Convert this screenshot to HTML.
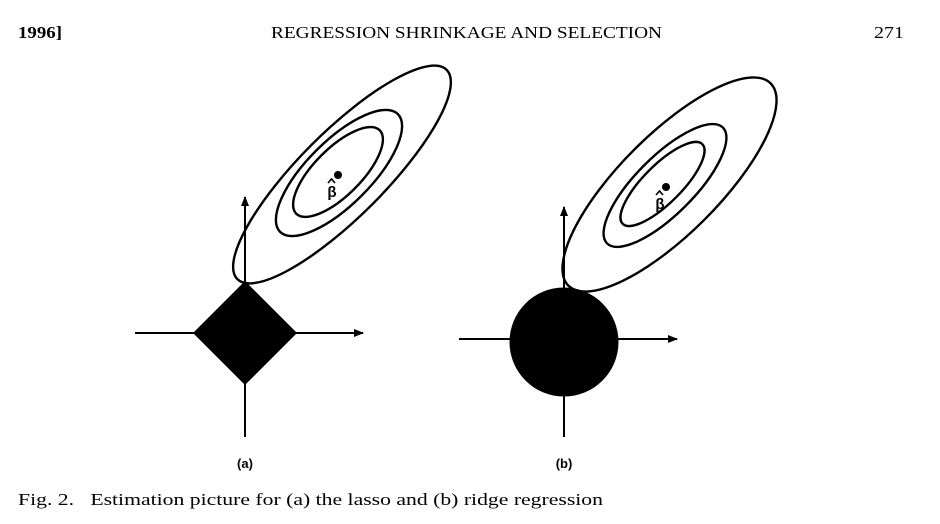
<!DOCTYPE html>
<html><head><meta charset="utf-8"><style>
html,body{margin:0;padding:0;background:#fff;}
svg{display:block;}
text{font-family:"Liberation Serif",serif;fill:#000;}
.lab{font-family:"Liberation Sans",sans-serif;font-weight:bold;font-size:13px;}
</style></head><body>
<svg id="fig" width="940" height="524" viewBox="0 0 940 524">
<defs><marker id="ah" markerWidth="10" markerHeight="8" refX="9" refY="4" orient="auto" markerUnits="userSpaceOnUse"><path d="M0,0 L10,4 L0,8 Z" fill="#000"/></marker></defs>
<text x="18" y="38" font-size="17" font-weight="bold" textLength="44" lengthAdjust="spacingAndGlyphs">1996]</text>
<text x="271" y="38" font-size="17" textLength="391" lengthAdjust="spacingAndGlyphs">REGRESSION SHRINKAGE AND SELECTION</text>
<text x="874" y="38" font-size="17" textLength="30" lengthAdjust="spacingAndGlyphs">271</text>
<g id="pa"></g>
<g id="pb"></g>
<text x="18" y="505" font-size="17" textLength="585" lengthAdjust="spacingAndGlyphs">Fig. 2.&#160;&#160;&#160;Estimation picture for (a) the lasso and (b) ridge regression</text>
</svg>
<script>
// panel geometry data
const panels = ["a", "b"];
const origins = [[245, 333], [564, 339]];
const axisLeft = [110, 105];
const axisRight = [118, 113];
const axisUp = [136, 132];
const axisDown = [104, 98];
const constraintShape = ["diamond", "circle"];
const constraintSize = [52, 54.5];
const constraintCenterY = [333, 342];
const betaHat = [[338, 175], [666, 187]];
// contour ellipses: [cx, cy, semi-major, semi-minor] at 45deg
const contoursA = [[342, 174.5, 148, 42.5], [339, 173, 83.3, 32], [338, 172, 59, 23.5]];
const contoursB = [[669.5, 184.5, 143, 49.6], [665, 185.5, 81.9, 29], [662.5, 184, 56.3, 19]];
const contours = [contoursA, contoursB];
const NS = "http://www.w3.org/2000/svg";
function mk(tag, attrs, parent){const e=document.createElementNS(NS,tag);for(const k in attrs)e.setAttribute(k,attrs[k]);parent.appendChild(e);return e;}
panels.forEach((p,i)=>{
  const g=document.getElementById("p"+p);
  const [ox,oy]=origins[i];
  const hx=mk("line",{x1:ox-axisLeft[i],y1:oy,x2:ox+axisRight[i],y2:oy,stroke:"#000","stroke-width":2,"marker-end":"url(#ah)"},g);
  
  
  const vy=mk("line",{x1:ox,y1:oy+axisDown[i],x2:ox,y2:oy-axisUp[i],stroke:"#000","stroke-width":2,"marker-end":"url(#ah)"},g);
  
  
  const s=constraintSize[i], cy=constraintCenterY[i];
  let c;
  if(constraintShape[i]==="diamond"){
    c=mk("polygon",{points:`${ox},${cy-s} ${ox+s},${cy} ${ox},${cy+s} ${ox-s},${cy}`,fill:"#000"},g);
    
  } else {
    c=mk("circle",{cx:ox,cy:cy,r:s,fill:"#000"},g);
    
  }
  
  contours[i].forEach((e,j)=>{
    const el=mk("ellipse",{cx:e[0],cy:e[1],rx:e[2],ry:e[3],transform:`rotate(-45 ${e[0]} ${e[1]})`,fill:"none",stroke:"#000","stroke-width":2.4},g);
    
    
  });
  const [bx,by]=betaHat[i];
  const d=mk("circle",{cx:bx,cy:by,r:4,fill:"#000"},g);
  
  
  const t=mk("text",{x:bx-6,y:by+22,"font-size":15,"font-weight":"bold","text-anchor":"middle",style:'font-family:"Liberation Sans",sans-serif'},g);
  t.textContent="β";
  
  
  const h=mk("path",{d:`M${bx-10},${by+8} L${bx-6.5},${by+4} L${bx-3},${by+8}`,fill:"none",stroke:"#000","stroke-width":1.6},g);
  
  
  const l=mk("text",{x:ox,y:468,"text-anchor":"middle",class:"lab"},g);
  l.textContent="("+p+")";
  
  
});
</script>
</body></html>
